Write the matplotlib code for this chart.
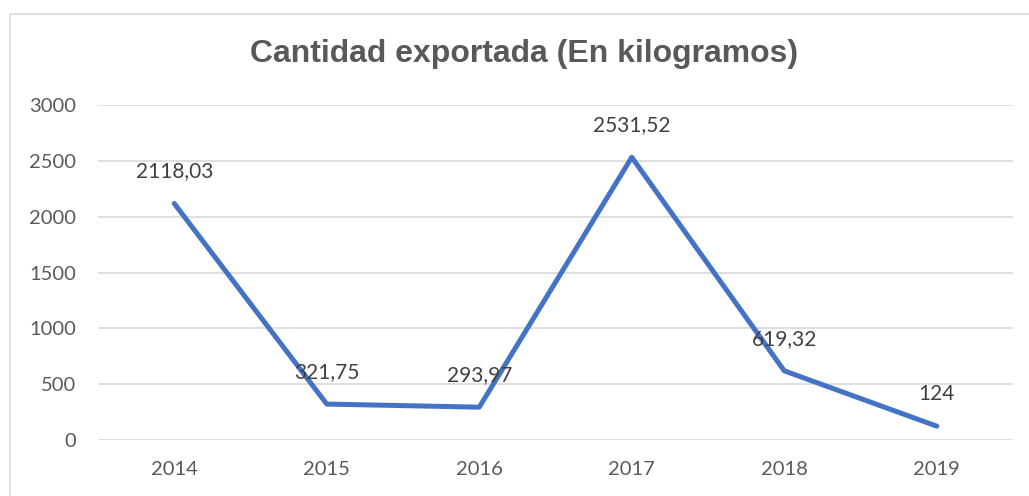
import matplotlib.pyplot as plt
from matplotlib.patches import Rectangle

years = ['2014', '2015', '2016', '2017', '2018', '2019']
cantidad = [2118.03, 321.75, 293.97, 2531.52, 619.32, 124]
labels = ['2118,03', '321,75', '293,97', '2531,52', '619,32', '124']

text_color = '#595959'
grid_color = '#d9d9d9'

fig = plt.figure(figsize=(10.29, 4.96), dpi=100)
ax = fig.add_axes([98 / 1029, 1 - 440 / 496, 915 / 1029, 335 / 496])

# chart frame (Excel style)
fig.patches.append(Rectangle((10 / 1029, -0.2), 1.2, 1.2 - 14 / 496,
                             transform=fig.transFigure, fill=False,
                             edgecolor=grid_color, linewidth=1.2))

x = list(range(len(years)))
ax.plot(x, cantidad, color='#4472C4', linewidth=3.6, solid_capstyle='round',
        solid_joinstyle='round', zorder=3)

for xi, yi, lab in zip(x, cantidad, labels):
    ax.annotate(lab, (xi, yi), xytext=(0, 23), textcoords='offset points',
                ha='center', va='center', fontsize=15, color='#404040',
                family='Lato', zorder=4)

ax.set_xlim(-0.5, 5.5)
ax.set_ylim(0, 3000)
ax.set_yticks(range(0, 3001, 500))
ax.set_xticks(x)
ax.set_xticklabels(years)
ax.grid(axis='y', color=grid_color, linewidth=1.2)
ax.set_axisbelow(True)
for s in ax.spines.values():
    s.set_visible(False)
ax.tick_params(axis='both', length=0, labelsize=14.5, labelcolor=text_color)
ax.tick_params(axis='y', pad=16)
ax.tick_params(axis='x', pad=15)
for t in ax.get_xticklabels() + ax.get_yticklabels():
    t.set_family('Lato')

fig.text(524 / 1029, 1 - 54 / 496, 'Cantidad exportada (En kilogramos)',
         ha='center', va='center', fontsize=23, fontweight='bold',
         color=text_color, family='Liberation Sans')

fig.savefig('out.png', dpi=100)
